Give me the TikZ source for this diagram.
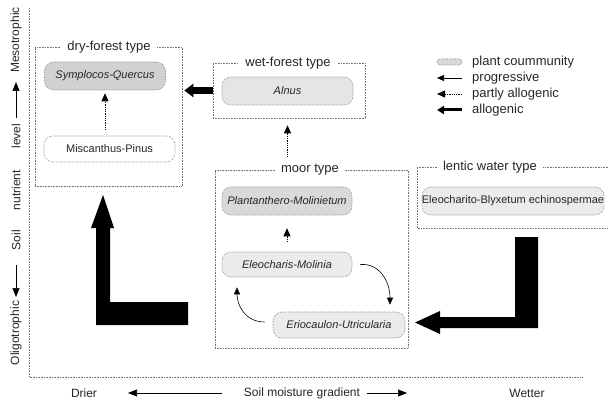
\documentclass[tikz,border=0pt]{standalone}
\usepackage{fontspec}
\setmainfont{Liberation Sans}
\usetikzlibrary{arrows.meta}
\begin{document}
\begin{tikzpicture}[x=1pt,y=-1pt,
  every node/.style={text=black!85},
  comm/.style={draw=black!55, densely dotted, line width=0.6pt, rounded corners=9pt, inner sep=0pt,
    font=\fontsize{11}{12}\selectfont\itshape},
  commup/.style={comm, font=\fontsize{11}{12}\selectfont},
  typebox/.style={draw=black!55, densely dotted, line width=0.6pt, inner sep=0pt},
  boxtitle/.style={fill=white, font=\fontsize{13}{14}\selectfont, inner xsep=6pt, inner ysep=1pt},
  legtext/.style={font=\fontsize{13}{14}\selectfont, anchor=west, inner sep=0pt},
  axtext/.style={font=\fontsize{12}{13}\selectfont, inner sep=0pt},
  prog/.style={-{Triangle[width=6pt,length=7pt]}, line width=0.6pt},
  partly/.style={-{Triangle[width=7pt,length=8pt]}, densely dotted, line width=0.8pt},
  allog/.style={-{Triangle[width=13pt,length=9pt]}, line width=7pt},
  axarrow/.style={-{Triangle[width=7pt,length=9pt]}, line width=0.6pt},
  axline/.style={draw=black!55, densely dotted, line width=0.6pt},
]
\useasboundingbox (0,0) rectangle (608,401);

% axes
\coordinate (ax0) at (29,377);
\coordinate (axtop) at (29,8);
\coordinate (axright) at (583,377);
\draw[axline] (axtop) -- (ax0) -- (axright);

% y axis labels
\node[axtext, rotate=90] (meso) at (16,40) {Mesotrophic};
\node[axtext, rotate=90] (level) at (16,136) {level};
\node[axtext, rotate=90] (nutr) at (16,190) {nutrient};
\node[axtext, rotate=90] (soil) at (16,240) {Soil};
\node[axtext, rotate=90] (oligo) at (16,333) {Oligotrophic};
\coordinate (ua) at (16,118); \coordinate (ub) at (16,82);
\draw[axarrow] (ua) -- (ub);
\coordinate (da) at (16,265); \coordinate (db) at (16,297);
\draw[axarrow] (da) -- (db);

% x axis labels
\node[axtext] (drier) at (84,393) {Drier};
\node[axtext] (grad) at (302,393) {Soil moisture gradient};
\node[axtext] (wetter) at (527,393) {Wetter};
\coordinate (la) at (222,393); \coordinate (lb) at (128,393);
\draw[axarrow] (la) -- (lb);
\coordinate (ra) at (367,393); \coordinate (rb) at (407,393);
\draw[axarrow] (ra) -- (rb);

% type boxes
\node[typebox, minimum width=147pt, minimum height=139pt] (dry) at (108.5,116.5) {};
\node[boxtitle] (drytitle) at (109,47) {dry-forest type};
\node[typebox, minimum width=152pt, minimum height=55pt] (wet) at (289,90.5) {};
\node[boxtitle] (wettitle) at (288,63) {wet-forest type};
\node[typebox, minimum width=193pt, minimum height=178pt] (moor) at (311.5,259) {};
\node[boxtitle] (moortitle) at (310,170) {moor type};
\draw[draw=black!55, densely dotted, line width=0.6pt] (608,167) -- (417,167) -- (417,228) -- (608,228);
\node[minimum width=191pt, minimum height=61pt, inner sep=0pt] (lentic) at (512.5,197.5) {};
\node[boxtitle] (lentictitle) at (490,167) {lentic water type};

% plant communities
\node[comm, fill=black!18, minimum width=121pt, minimum height=28pt] (sym) at (105,76) {Symplocos-Quercus};
\node[commup, fill=white, minimum width=131pt, minimum height=26pt] (misc) at (109.5,149) {Miscanthus-Pinus};
\node[comm, fill=black!10, minimum width=131pt, minimum height=28pt] (alnus) at (287.5,91) {Alnus};
\node[comm, fill=black!15, minimum width=130pt, minimum height=28pt] (plant) at (287,201) {Plantanthero-Molinietum};
\node[comm, fill=black!8, minimum width=130pt, minimum height=25pt] (eleo) at (287,264.5) {Eleocharis-Molinia};
\node[comm, fill=black!8, minimum width=132pt, minimum height=26pt] (erio) at (339,325) {Eriocaulon-Utricularia};
\node[commup, fill=black!8, minimum width=182pt, minimum height=28pt] (lent) at (513,201) {Eleocharito-Blyxetum echinospermae};

% successional arrows
\draw[partly, shorten <=6pt, shorten >=3pt] (misc.north -| sym.south) -- (sym.south);
\draw[partly, shorten <=13pt, shorten >=7pt] (moor.north -| alnus.south) -- (wet.south -| alnus.south);
\draw[partly, shorten <=10pt, shorten >=13pt] (eleo.north) -- (plant.south);
\draw[prog] ([xshift=8pt]eleo.east) .. controls (380,263) and (390,282) .. ([xshift=51pt,yshift=7pt]erio.north);
\draw[prog] ([xshift=-8pt,yshift=3pt]erio.west) .. controls (245,322) and (237,305) .. ([xshift=-50pt,yshift=-10pt]eleo.south);
\draw[allog, shorten >=2pt] (wet.west) -- (wet.west -| dry.east);

% big L-shaped allogenic arrows
\fill[black] (96,325) -- (188,325) -- (188,302) -- (110,302) -- (110,228) -- (114,228) -- (103,195) -- (91,228) -- (96,228) -- cycle;
\fill[black] (515,237) -- (538,237) -- (538,328) -- (440,328) -- (440,334) -- (415,322.5) -- (440,311) -- (440,317) -- (515,317) -- cycle;

% legend
\node[comm, fill=black!15, minimum width=25pt, minimum height=6pt, rounded corners=3pt] (lg1) at (449.5,62) {};
\node[legtext] (lt1) at (472,62) {plant coummunity};
\coordinate (lg2a) at (462,78); \coordinate (lg2b) at (437,78);
\draw[prog] (lg2a) -- (lg2b);
\node[legtext] (lt2) at (472,78) {progressive};
\coordinate (lg3a) at (462,94); \coordinate (lg3b) at (437,94);
\draw[partly] (lg3a) -- (lg3b);
\node[legtext] (lt3) at (472,94) {partly allogenic};
\coordinate (lg4a) at (462,110); \coordinate (lg4b) at (437,110);
\draw[-{Triangle[width=8pt,length=7pt]}, line width=3pt] (lg4a) -- (lg4b);
\node[legtext] (lt4) at (472,110) {allogenic};
\end{tikzpicture}
\end{document}
